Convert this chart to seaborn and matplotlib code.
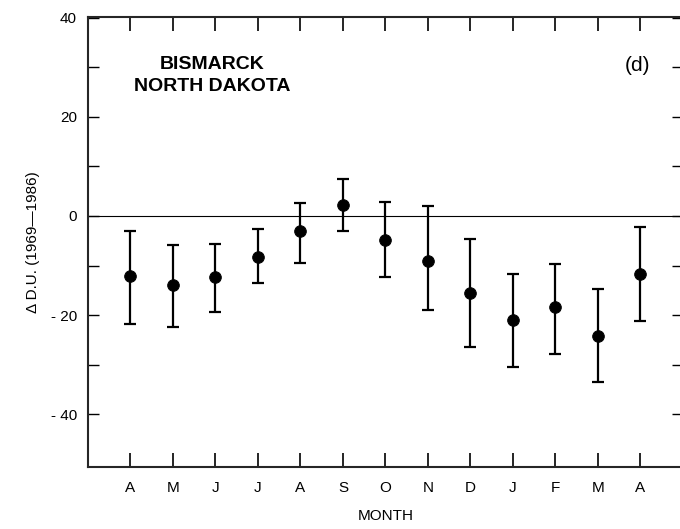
import numpy as np
import matplotlib
matplotlib.use("Agg")
import matplotlib.pyplot as plt
import seaborn as sns

# monthly ozone deviation, Bismarck ND
months = ['A', 'M', 'J', 'J', 'A', 'S', 'O', 'N', 'D', 'J', 'F', 'M', 'A']
delta_du = [-12.1, -13.9, -12.3, -8.2, -3.0, 2.2, -4.9, -9.0, -15.5, -21.1, -18.4, -24.2, -11.7]
err_top = [-3.0, -5.9, -5.6, -2.7, 2.6, 7.5, 2.8, 2.0, -4.6, -11.7, -9.7, -14.7, -2.2]
err_bottom = [-21.9, -22.4, -19.3, -13.5, -9.4, -3.0, -12.3, -19.0, -26.5, -30.5, -27.8, -33.6, -21.3]

sns.set_style('ticks')
plt.rcParams['font.family'] = ['Liberation Sans', 'DejaVu Sans']
plt.rcParams['text.color'] = 'black'
plt.rcParams['axes.labelcolor'] = 'black'
plt.rcParams['xtick.color'] = 'black'
plt.rcParams['ytick.color'] = 'black'

fig = plt.figure(figsize=(6.8, 5.29), dpi=100)
ax = fig.add_axes([0.1294, 0.1172, 0.875, 0.8507])

pos = np.arange(len(months))
vals = np.array(delta_du)
yerr = [vals - np.array(err_bottom), np.array(err_top) - vals]

ax.axhline(0, color='black', lw=0.8, zorder=1)
ax.errorbar(pos, vals, yerr=yerr, fmt='none', ecolor='black', elinewidth=1.6,
            capsize=4, capthick=1.6, zorder=2)
sns.scatterplot(x=pos, y=vals, ax=ax, color='black', s=70, edgecolor='black', zorder=3)

ax.set_xlim(-1, len(months))
ax.set_ylim(-50.7, 40.2)
ax.set_xticks(pos)
ax.set_xticklabels(months, fontsize=11)
ax.set_yticks([-40, -20, 0, 20, 40])
ax.set_yticklabels(['- 40', '- 20', '0', '20', '40'], fontsize=11)
ax.set_yticks([-30, -10, 10, 30], minor=True)

ax.tick_params(axis='x', which='both', direction='in', top=True, bottom=True,
               length=10, width=1.2, pad=10)
ax.tick_params(axis='y', which='both', direction='in', left=True, right=True,
               length=8, width=1.0, pad=8)
ax.spines['right'].set_visible(False)
for s in ['left', 'top', 'bottom']:
    ax.spines[s].set_linewidth(1.5)

ax.set_xlabel('MONTH', fontsize=11, labelpad=10)
ax.set_ylabel('Δ D.U. (1969—1986)', fontsize=11, labelpad=8)

ax.text(0.208, 0.895, 'BISMARCK', transform=ax.transAxes,
        ha='center', va='center', fontsize=14, fontweight='bold')
ax.text(0.208, 0.846, 'NORTH DAKOTA', transform=ax.transAxes,
        ha='center', va='center', fontsize=14, fontweight='bold')
ax.text(0.923, 0.892, '(d)', transform=ax.transAxes, ha='center', va='center', fontsize=15)

fig.savefig('out.png', dpi=100)
